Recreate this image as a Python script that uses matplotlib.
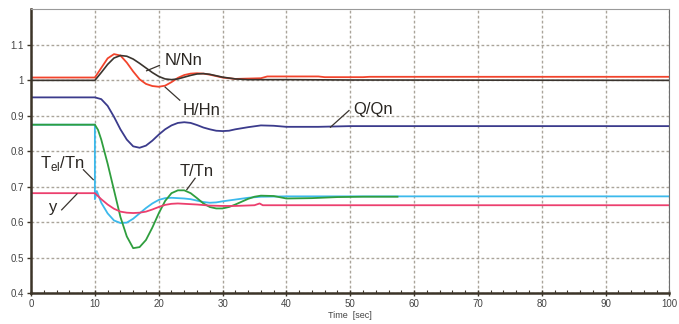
import matplotlib
matplotlib.use('Agg')
import matplotlib.pyplot as plt
from matplotlib.ticker import MultipleLocator, FuncFormatter

plt.rcParams['font.family'] = ['Liberation Sans', 'DejaVu Sans']
plt.rcParams['mathtext.fontset'] = 'custom'
plt.rcParams['mathtext.rm'] = 'Liberation Sans'

# Values
t_n = [0, 10, 11, 12, 13, 14, 15, 16, 17, 18, 19, 20, 21, 22, 23, 24, 25, 26, 27, 28,
       29, 30, 32, 34, 40, 50, 100]
n_nn = [1.0, 1.0, 1.022, 1.045, 1.063, 1.070, 1.068, 1.060, 1.048, 1.035, 1.022, 1.011,
        1.004, 1.002, 1.004, 1.009, 1.014, 1.018, 1.019, 1.017, 1.013, 1.009, 1.004,
        1.002, 1.002, 1.001, 1.0]

t_h = [0, 10, 11, 12, 13, 14, 15, 16, 17, 18, 19, 20, 21, 22, 23, 24, 25, 26, 27, 28,
       29, 30, 32, 34, 36, 37, 45, 46, 52, 53, 100]
h_hn = [1.008, 1.008, 1.035, 1.062, 1.074, 1.070, 1.050, 1.025, 1.003, 0.990, 0.984,
        0.982, 0.985, 0.995, 1.007, 1.015, 1.019, 1.020, 1.019, 1.016, 1.012, 1.008,
        1.004, 1.005, 1.006, 1.011, 1.011, 1.009, 1.009, 1.010, 1.010]

t_q = [0, 10, 11, 12, 13, 14, 15, 16, 17, 18, 19, 20, 21, 22, 23, 24, 25, 26, 27, 28,
       29, 30, 31, 32, 34, 36, 38, 40, 45, 50, 100]
q_qn = [0.952, 0.952, 0.947, 0.928, 0.897, 0.862, 0.833, 0.814, 0.810, 0.816, 0.830,
        0.847, 0.862, 0.873, 0.880, 0.882, 0.880, 0.874, 0.867, 0.862, 0.858, 0.857,
        0.858, 0.862, 0.868, 0.873, 0.872, 0.869, 0.869, 0.871, 0.871]

t_tel = [0, 10, 10, 10.3, 11, 12, 13, 14, 15, 16, 17, 18, 19, 20, 21, 22, 23, 24, 25,
         26, 27, 28, 29, 30, 32, 34, 36, 40, 100]
tel_tn = [0.875, 0.875, 0.665, 0.688, 0.655, 0.625, 0.605, 0.598, 0.599, 0.610, 0.625,
          0.640, 0.653, 0.663, 0.668, 0.669, 0.668, 0.667, 0.665, 0.661, 0.657, 0.655,
          0.656, 0.659, 0.664, 0.669, 0.672, 0.673, 0.673]

t_t = [0, 10, 10.5, 11, 12, 13, 14, 15, 16, 17, 18, 19, 20, 21, 22, 23, 24, 25, 26, 27,
       28, 29, 30, 31, 32, 33, 34, 35, 36, 38, 40, 44, 48, 52, 57.4]
t_tn = [0.875, 0.875, 0.860, 0.833, 0.765, 0.690, 0.615, 0.560, 0.527, 0.530, 0.550,
        0.585, 0.625, 0.660, 0.682, 0.690, 0.690, 0.682, 0.668, 0.653, 0.643, 0.639,
        0.639, 0.643, 0.650, 0.658, 0.666, 0.672, 0.675, 0.674, 0.667, 0.668, 0.671,
        0.672, 0.672]

t_y = [0, 10, 11, 12, 13, 14, 15, 16, 17, 18, 19, 20, 21, 22, 23, 24, 26, 28, 30, 32,
       35, 35.8, 36.3, 37, 100]
y_gate = [0.682, 0.682, 0.665, 0.650, 0.638, 0.630, 0.627, 0.626, 0.627, 0.630, 0.636,
          0.643, 0.649, 0.652, 0.653, 0.652, 0.650, 0.647, 0.646, 0.646, 0.648, 0.653,
          0.648, 0.648, 0.648]

# labels: text, text position, leader line start/end
labels = [
    ('N/Nn', (21.0, 1.042), (20.1, 1.042), (18.1, 1.027)),
    ('H/Hn', (23.8, 0.901), (23.3, 0.944), (21.0, 0.981)),
    ('Q/Qn', (50.5, 0.906), (49.8, 0.915), (46.9, 0.868)),
    ('T/Tn', (23.3, 0.729), (25.7, 0.724), (24.4, 0.692)),
    (r'T$_{\rm el}$/Tn', (1.4, 0.753), (8.2, 0.748), (9.75, 0.720)),
    ('y', (2.8, 0.629), (4.8, 0.635), (7.2, 0.680)),
]

fig = plt.figure(figsize=(6.79, 3.24), dpi=100)
ax = fig.add_axes([0.0457, 0.095, 0.9403, 0.876])

ax.plot(t_q, q_qn, color='#3b3b8c', lw=1.3)
ax.plot(t_tel, tel_tn, color='#3cb9ec', lw=1.3)
ax.plot(t_t, t_tn, color='#2f9e3e', lw=1.3)
ax.plot(t_y, y_gate, color='#ec3f6e', lw=1.3)
ax.plot(t_h, h_hn, color='#f2442c', lw=1.3)
ax.plot(t_n, n_nn, color='#3a342e', lw=1.2)

for txt, pos, p0, p1 in labels:
    ax.plot([p0[0], p1[0]], [p0[1], p1[1]], color='#3a342e', lw=0.9)
    ax.text(pos[0], pos[1], txt, fontsize=12, color='#2a2622', ha='left', va='baseline')

ax.set_xlim(0, 100)
ax.set_ylim(0.4, 1.2)
ax.xaxis.set_major_locator(MultipleLocator(10))
ax.xaxis.set_minor_locator(MultipleLocator(2))
ax.set_yticks([0.4, 0.5, 0.6, 0.7, 0.8, 0.9, 1.0, 1.1])
ax.yaxis.set_major_formatter(FuncFormatter(lambda v, p: '%g' % round(v, 2)))

ax.grid(True, which='major', color='#aaa49a', linestyle=(0, (2, 1.6)), lw=1.0)
ax.tick_params(axis='x', which='major', direction='inout', length=5, width=1,
               color='#3c3428', labelsize=7, labelcolor='#444444', pad=2)
ax.tick_params(axis='x', which='minor', direction='in', length=2.5, width=0.8,
               color='#3c3428')
ax.tick_params(axis='y', length=3, width=1, color='#3c3428', labelsize=7,
               labelcolor='#444444', pad=2)

for s in ['left', 'bottom']:
    ax.spines[s].set_color('#3c3428')
    ax.spines[s].set_linewidth(1.8)
ax.spines['top'].set_color('#9a9a9a')
ax.spines['top'].set_linewidth(0.8)
ax.spines['right'].set_color('#6e6e6e')
ax.spines['right'].set_linewidth(0.8)

ax.set_xlabel('Time  [sec]', fontsize=6.5, color='#444444', labelpad=1)

fig.savefig('out.png', dpi=100)
